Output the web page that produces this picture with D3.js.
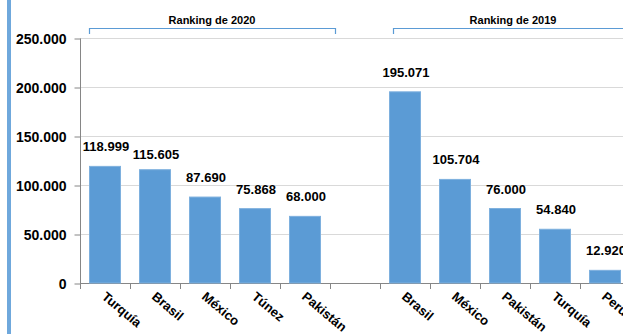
<!DOCTYPE html>
<html>
<head>
<meta charset="utf-8">
<script src="https://cdn.jsdelivr.net/npm/d3@7/dist/d3.min.js"></script>
<style>
  html, body { margin: 0; padding: 0; background: #fff; }
  svg { display: block; font-family: "Liberation Sans", Arial, sans-serif; }
</style>
</head>
<body>
<svg id="chart" width="623" height="334"></svg>
<script>
// Categories along the x axis (a blank slot separates the two rankings)
const categories = ["Turquía", "Brasil", "México", "Túnez", "Pakistán", "",
                    "Brasil", "México", "Pakistán", "Turquía", "Perú"];
// Values for each slot (null = empty separator)
const values = [118999, 115605, 87690, 75868, 68000, null,
                195071, 105704, 76000, 54840, 12920];
// Value labels as printed above bars
const valueLabels = ["118.999", "115.605", "87.690", "75.868", "68.000", "",
                     "195.071", "105.704", "76.000", "54.840", "12.920"];
// Y-axis ticks
const yTicks = [0, 50000, 100000, 150000, 200000, 250000];
const yTickLabels = ["0", "50.000", "100.000", "150.000", "200.000", "250.000"];
// Group headings
const groups = ["Ranking de 2020", "Ranking de 2019"];

const svg = d3.select("#chart");
const blue = "#5B9BD5";

// left accent stripe
svg.append("rect").attr("x", 7).attr("y", 0).attr("width", 4).attr("height", 334)
  .attr("fill", "#6FA8DC");

const x = d3.scaleBand().domain(d3.range(categories.length))
  .range([80, 630]).paddingInner(0.38).paddingOuter(0.19);
const xs = d3.scaleBand().domain(d3.range(categories.length)).range([80, 630]);
const y = d3.scaleLinear().domain([0, 250000]).range([283, 38]);

// gridlines
svg.append("g").selectAll("line").data(yTicks.slice(1)).join("line")
  .attr("x1", 80).attr("x2", 623)
  .attr("y1", d => y(d) + 0.5).attr("y2", d => y(d) + 0.5)
  .attr("stroke", "#D9D9D9").attr("stroke-width", 1);

// y axis
const yAxis = d3.axisLeft(y).tickValues(yTicks)
  .tickFormat((d, i) => yTickLabels[i]).tickSize(6).tickPadding(8);
const gy = svg.append("g").attr("transform", "translate(80.5,0.5)").call(yAxis);
gy.select(".domain").attr("stroke", "#868686").attr("d", "M0," + (y(250000)) + "V" + y(0));
gy.selectAll(".tick line").attr("stroke", "#868686");
gy.selectAll(".tick text").attr("fill", "#000").attr("font-size", 14)
  .attr("font-weight", "bold").attr("dy", "0.35em");

// x axis line with ticks at band boundaries
svg.append("line").attr("x1", 80).attr("x2", 623).attr("y1", y(0) + 0.5).attr("y2", y(0) + 0.5)
  .attr("stroke", "#868686");
svg.append("g").selectAll("line").data(d3.range(categories.length + 1)).join("line")
  .attr("x1", i => (i < categories.length ? xs(i) : 630) + 0.5)
  .attr("x2", i => (i < categories.length ? xs(i) : 630) + 0.5)
  .attr("y1", y(0)).attr("y2", y(0) + 6)
  .attr("stroke", "#868686");

// bars
const idx = d3.range(categories.length).filter(i => values[i] != null);
svg.append("g").selectAll("rect").data(idx).join("rect")
  .attr("x", i => x(i)).attr("width", x.bandwidth())
  .attr("y", i => y(values[i])).attr("height", i => y(0) - y(values[i]))
  .attr("fill", blue).attr("stroke", "#7EB0DE").attr("stroke-width", 1);

// value labels
svg.append("g").selectAll("text").data(idx).join("text")
  .attr("x", i => x(i) + x.bandwidth() / 2 + 1)
  .attr("y", i => y(values[i]) - (i === 1 ? 11 : 15))
  .attr("text-anchor", "middle").attr("font-size", 13).attr("font-weight", "bold")
  .attr("fill", "#000").text(i => valueLabels[i]);

// rotated category labels
svg.append("g").selectAll("text").data(idx).join("text")
  .attr("transform", i => `translate(${xs(i) + xs.bandwidth() / 2 - 4},${y(0) + 15}) rotate(40)`)
  .attr("font-size", 13).attr("font-weight", "bold").attr("fill", "#000")
  .text(i => categories[i]);

// group brackets
const brackets = [
  { x1: xs(0) + 9, x2: xs(5) + 5, label: groups[0] },
  { x1: xs(6) + 13, x2: 640, label: groups[1] }
];
brackets.forEach(b => {
  svg.append("path")
    .attr("d", `M${b.x1 + 0.5},34V28.5H${b.x2 + 0.5}V34`)
    .attr("fill", "none").attr("stroke", blue).attr("stroke-width", 1.2);
});
svg.append("text").attr("x", 212).attr("y", 24).attr("text-anchor", "middle")
  .attr("font-size", 11).attr("font-weight", "bold").text(groups[0]);
svg.append("text").attr("x", 513).attr("y", 24).attr("text-anchor", "middle")
  .attr("font-size", 11).attr("font-weight", "bold").text(groups[1]);
</script>
</body>
</html>
